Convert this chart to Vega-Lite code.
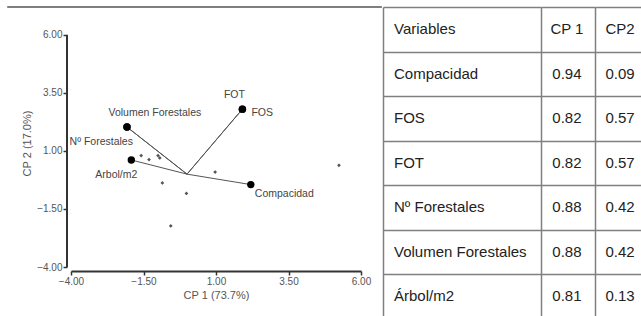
{
  "$schema": "https://vega.github.io/schema/vega-lite/v6.json",
  "padding": {"left": 6, "top": 6, "right": 0, "bottom": 0},
  "spacing": 0,
  "config": {
    "view": {"stroke": null},
    "font": "Liberation Sans",
    "concat": {"spacing": 0}
  },
  "datasets": {
    "obs": [
      {"cp1": -1.58, "cp2": 0.80},
      {"cp1": -1.31, "cp2": 0.63},
      {"cp1": -1.00, "cp2": 0.80},
      {"cp1": -0.94, "cp2": 0.70},
      {"cp1": -0.85, "cp2": -0.38},
      {"cp1": -0.02, "cp2": -0.83},
      {"cp1": -0.56, "cp2": -2.23},
      {"cp1": 0.97, "cp2": 0.09},
      {"cp1": 5.24, "cp2": 0.38}
    ],
    "vars": [
      {"name": "Volumen Forestales", "cp1": -2.07, "cp2": 2.03},
      {"name": "Nº Forestales", "cp1": -2.07, "cp2": 2.03},
      {"name": "FOT", "cp1": 1.91, "cp2": 2.80},
      {"name": "FOS", "cp1": 1.91, "cp2": 2.80},
      {"name": "Arbol/m2", "cp1": -1.92, "cp2": 0.61},
      {"name": "Compacidad", "cp1": 2.20, "cp2": -0.45}
    ],
    "loadings": [
      {"Variable": "Compacidad", "CP1": 0.94, "CP2": 0.09},
      {"Variable": "FOS", "CP1": 0.82, "CP2": 0.57},
      {"Variable": "FOT", "CP1": 0.82, "CP2": 0.57},
      {"Variable": "Nº Forestales", "CP1": 0.88, "CP2": 0.42},
      {"Variable": "Volumen Forestales", "CP1": 0.88, "CP2": 0.42},
      {"Variable": "Árbol/m2", "CP1": 0.81, "CP2": 0.13}
    ],
    "header": [
      {"c1": "Variables", "c2": "CP 1", "c3": "CP2"}
    ]
  },
  "hconcat": [
    {
      "width": 290,
      "height": 260,
      "layer": [
        {
          "data": {"name": "header"},
          "mark": {"type": "rule", "stroke": "#7f7f7f", "strokeWidth": 2},
          "encoding": {
            "x": {"datum": -6.2, "type": "quantitative"},
            "x2": {"datum": 6.72},
            "y": {"datum": 7.2, "type": "quantitative"}
          }
        },
        {
          "data": {"name": "header"},
          "mark": {"type": "rule", "stroke": "#333333", "strokeWidth": 2},
          "encoding": {
            "x": {"datum": -4.138, "type": "quantitative"},
            "y": {"datum": -4, "type": "quantitative"},
            "y2": {"datum": 6}
          }
        },
        {
          "data": {"name": "vars"},
          "mark": {"type": "rule", "stroke": "#555555", "strokeWidth": 1},
          "encoding": {
            "x": {"field": "cp1", "type": "quantitative"},
            "y": {"field": "cp2", "type": "quantitative"},
            "x2": {"datum": 0},
            "y2": {"datum": 0}
          }
        },
        {
          "data": {"name": "obs"},
          "mark": {"type": "point", "shape": "diamond", "filled": true, "color": "#555555", "size": 14, "opacity": 1},
          "encoding": {
            "x": {
              "field": "cp1", "type": "quantitative",
              "scale": {"domain": [-4, 6], "nice": false, "zero": false},
              "axis": {
                "title": "CP 1 (73.7%)", "values": [-4, -1.5, 1, 3.5, 6], "format": ".2f",
                "offset": 4, "grid": false, "domainColor": "#333333", "domainWidth": 2,
                "tickColor": "#333333", "tickWidth": 1.5, "tickSize": 4,
                "labelFont": "Liberation Sans", "labelFontSize": 10, "labelColor": "#555555",
                "labelPadding": 1, "labelFlush": false, "labelOverlap": false, "labelBound": false,
                "titleFont": "Liberation Sans", "titleFontSize": 11, "titleFontWeight": "normal",
                "titleColor": "#555555", "titlePadding": 3
              }
            },
            "y": {
              "field": "cp2", "type": "quantitative",
              "scale": {"domain": [-4, 7.2], "nice": false, "zero": false},
              "axis": {
                "title": "CP 2 (17.0%)", "values": [-4, -1.5, 1, 3.5, 6], "format": ".2f",
                "offset": 4, "grid": false, "domain": false,
                "tickColor": "#333333", "tickWidth": 1.5, "tickSize": 4,
                "labelFont": "Liberation Sans", "labelFontSize": 10, "labelColor": "#555555",
                "labelPadding": 1, "labelFlush": false, "labelOverlap": false, "labelBound": false,
                "titleFont": "Liberation Sans", "titleFontSize": 11, "titleFontWeight": "normal",
                "titleColor": "#555555", "titlePadding": 4, "titleY": 136
              }
            }
          }
        },
        {
          "data": {"name": "vars"},
          "mark": {"type": "circle", "color": "#000000", "size": 55, "opacity": 1},
          "encoding": {
            "x": {"field": "cp1", "type": "quantitative"},
            "y": {"field": "cp2", "type": "quantitative"}
          }
        },
        {
          "data": {"name": "vars"},
          "transform": [{"filter": {"field": "name", "oneOf": ["Volumen Forestales", "FOT"]}}],
          "mark": {"type": "text", "align": "left", "baseline": "middle", "dx": -18.5, "dy": -14, "fontSize": 10.5, "color": "#444444", "font": "Liberation Sans"},
          "encoding": {
            "x": {"field": "cp1", "type": "quantitative"},
            "y": {"field": "cp2", "type": "quantitative"},
            "text": {"field": "name"}
          }
        },
        {
          "data": {"name": "vars"},
          "transform": [{"filter": {"field": "name", "equal": "FOS"}}],
          "mark": {"type": "text", "align": "left", "baseline": "middle", "dx": 9, "dy": 4, "fontSize": 10.5, "color": "#444444", "font": "Liberation Sans"},
          "encoding": {
            "x": {"field": "cp1", "type": "quantitative"},
            "y": {"field": "cp2", "type": "quantitative"},
            "text": {"field": "name"}
          }
        },
        {
          "data": {"name": "vars"},
          "transform": [{"filter": {"field": "name", "equal": "Compacidad"}}],
          "mark": {"type": "text", "align": "left", "baseline": "middle", "dx": 4, "dy": 9.5, "fontSize": 10.5, "color": "#444444", "font": "Liberation Sans"},
          "encoding": {
            "x": {"field": "cp1", "type": "quantitative"},
            "y": {"field": "cp2", "type": "quantitative"},
            "text": {"field": "name"}
          }
        },
        {
          "data": {"name": "vars"},
          "transform": [{"filter": {"field": "name", "oneOf": ["Nº Forestales", "Arbol/m2"]}}],
          "mark": {"type": "text", "align": "right", "baseline": "middle", "dx": 6, "dy": 15, "fontSize": 10.5, "color": "#444444", "font": "Liberation Sans"},
          "encoding": {
            "x": {"field": "cp1", "type": "quantitative"},
            "y": {"field": "cp2", "type": "quantitative"},
            "text": {"field": "name"}
          }
        }
      ]
    },
    {
      "hconcat": [
        {
          "width": 158,
          "height": 311.5,
          "layer": [
            {
              "data": {"name": "loadings"},
              "mark": {"type": "text", "align": "left", "baseline": "middle", "dx": 11, "fontSize": 15, "color": "#222222", "font": "Liberation Sans"},
              "encoding": {
                "x": {"datum": 0, "type": "quantitative", "scale": {"domain": [0, 1]},
                  "axis": {"values": [0], "grid": true, "gridColor": "#7f7f7f", "gridWidth": 1.5, "labels": false, "ticks": false, "domain": false, "title": null}},
                "y": {"field": "Variable", "type": "nominal",
                  "scale": {"domain": ["Variables", "Compacidad", "FOS", "FOT", "Nº Forestales", "Volumen Forestales", "Árbol/m2"], "paddingInner": 0, "paddingOuter": 0},
                  "axis": {"grid": true, "tickBand": "extent", "gridColor": "#7f7f7f", "gridWidth": 1.5, "labels": false, "ticks": false, "domain": false, "title": null}},
                "text": {"field": "Variable"}
              }
            },
            {
              "data": {"name": "header"},
              "mark": {"type": "text", "align": "left", "baseline": "middle", "dx": 11, "fontSize": 15, "color": "#222222", "font": "Liberation Sans"},
              "encoding": {
                "x": {"datum": 0, "type": "quantitative"},
                "y": {"datum": "Variables", "type": "nominal"},
                "text": {"field": "c1"}
              }
            }
          ]
        },
        {
          "width": 54,
          "height": 311.5,
          "layer": [
            {
              "data": {"name": "loadings"},
              "mark": {"type": "text", "align": "center", "baseline": "middle", "fontSize": 15, "color": "#222222", "font": "Liberation Sans"},
              "encoding": {
                "x": {"datum": 0.48, "type": "quantitative", "scale": {"domain": [0, 1]},
                  "axis": {"values": [0], "grid": true, "gridColor": "#7f7f7f", "gridWidth": 1.5, "labels": false, "ticks": false, "domain": false, "title": null}},
                "y": {"field": "Variable", "type": "nominal",
                  "scale": {"domain": ["Variables", "Compacidad", "FOS", "FOT", "Nº Forestales", "Volumen Forestales", "Árbol/m2"], "paddingInner": 0, "paddingOuter": 0},
                  "axis": {"grid": true, "tickBand": "extent", "gridColor": "#7f7f7f", "gridWidth": 1.5, "labels": false, "ticks": false, "domain": false, "title": null}},
                "text": {"field": "CP1", "type": "quantitative", "format": ".2f"}
              }
            },
            {
              "data": {"name": "header"},
              "mark": {"type": "text", "align": "center", "baseline": "middle", "fontSize": 15, "color": "#222222", "font": "Liberation Sans"},
              "encoding": {
                "x": {"datum": 0.48, "type": "quantitative"},
                "y": {"datum": "Variables", "type": "nominal"},
                "text": {"field": "c2"}
              }
            }
          ]
        },
        {
          "width": 52,
          "height": 311.5,
          "layer": [
            {
              "data": {"name": "loadings"},
              "mark": {"type": "text", "align": "left", "baseline": "middle", "dx": 10.5, "fontSize": 15, "color": "#222222", "font": "Liberation Sans"},
              "encoding": {
                "x": {"datum": 0, "type": "quantitative", "scale": {"domain": [0, 1]},
                  "axis": {"values": [0], "grid": true, "gridColor": "#7f7f7f", "gridWidth": 1.5, "labels": false, "ticks": false, "domain": false, "title": null}},
                "y": {"field": "Variable", "type": "nominal",
                  "scale": {"domain": ["Variables", "Compacidad", "FOS", "FOT", "Nº Forestales", "Volumen Forestales", "Árbol/m2"], "paddingInner": 0, "paddingOuter": 0},
                  "axis": {"grid": true, "tickBand": "extent", "gridColor": "#7f7f7f", "gridWidth": 1.5, "labels": false, "ticks": false, "domain": false, "title": null}},
                "text": {"field": "CP2", "type": "quantitative", "format": ".2f"}
              }
            },
            {
              "data": {"name": "header"},
              "mark": {"type": "text", "align": "left", "baseline": "middle", "dx": 10.5, "fontSize": 15, "color": "#222222", "font": "Liberation Sans"},
              "encoding": {
                "x": {"datum": 0, "type": "quantitative"},
                "y": {"datum": "Variables", "type": "nominal"},
                "text": {"field": "c3"}
              }
            }
          ]
        }
      ],
      "spacing": 0,
      "bounds": "flush"
    }
  ]
}
